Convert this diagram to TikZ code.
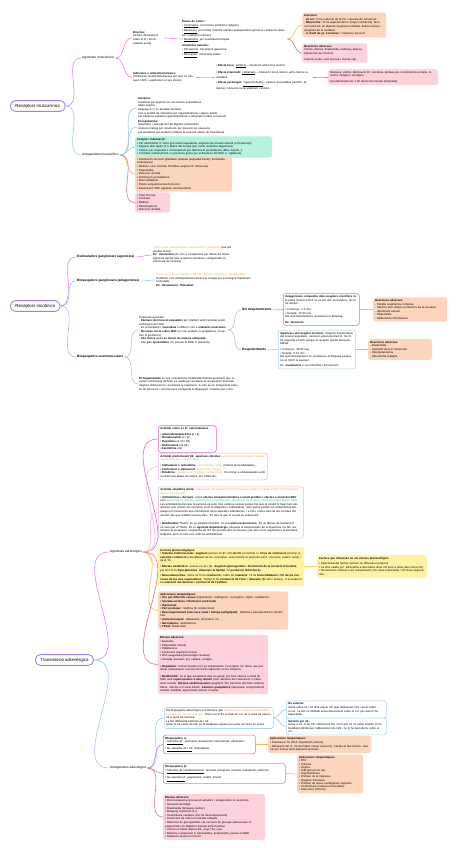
\documentclass[tikz,border=0pt]{standalone}
\usepackage{fontspec}
\setmainfont{Liberation Sans}
\usepackage{tikz}
\usepackage{xcolor}
\definecolor{RootPurple}{RGB}{164, 126, 245}
\definecolor{LinkPink}{RGB}{244, 123, 224}
\definecolor{LinkBlue}{RGB}{144, 205, 247}
\definecolor{LinkLav}{RGB}{192, 174, 245}
\definecolor{LinkOrange}{RGB}{248, 184, 78}
\definecolor{LinkRed}{RGB}{244, 108, 108}
\definecolor{LinkYellow}{RGB}{248, 213, 90}
\definecolor{Peach}{RGB}{253, 213, 189}
\definecolor{Rose}{RGB}{255, 209, 219}
\definecolor{Mint}{RGB}{183, 241, 223}
\definecolor{Lemon}{RGB}{255, 242, 163}
\definecolor{FrameMag}{RGB}{238, 95, 216}
\definecolor{FrameBlue}{RGB}{169, 214, 248}
\definecolor{FramePurple}{RGB}{165, 140, 243}
\definecolor{FramePink}{RGB}{249, 176, 200}
\definecolor{FrameLav}{RGB}{239, 180, 238}
\definecolor{TextOrange}{RGB}{245, 165, 58}
\definecolor{TextTeal}{RGB}{46, 196, 160}

\begin{document}
\begin{tikzpicture}[
    x=1pt, y=-1pt,
    font=\fontsize{2.8}{3.6}\selectfont,
    root/.style={draw=RootPurple, line width=0.9pt, rounded corners=5pt, fill=white, inner xsep=5pt, minimum height=10pt, anchor=west, font=\fontsize{4.4}{5}\selectfont},
    topic/.style={anchor=west, inner sep=1pt, font=\fontsize{3.2}{4}\selectfont},
    topicb/.style={topic, font=\fontsize{3.2}{4}\selectfont\bfseries},
    txt/.style={anchor=west, align=left, inner sep=1pt},
    card/.style={anchor=west, align=left, inner sep=2pt, rounded corners=2.5pt},
    peach/.style={card, fill=Peach},
    rose/.style={card, fill=Rose},
    mint/.style={card, fill=Mint},
    lemon/.style={card, fill=Lemon},
    framed/.style={card, fill=white, draw=#1, line width=0.6pt},
    link/.style={draw=#1, line width=0.6pt}
  ]
  \useasboundingbox (0,0) rectangle (458,848);

  \node[root] (musc) at (10,106) {Receptors muscarínics};
  \node[topic] (agmusc) at (81,58) {Agonistes muscarínics};
  \node[topic] (antmusc) at (81,155) {Antagonistes muscarínics};

  \node[txt, text width=30pt] (direct) at (132,38) {\textbf{Directes:}\\(actuen directament sobre el R i fan la mateixa acció)};
  \node[txt, text width=62pt] (indirect) at (132,77) {\textbf{Indirectes o anticolinesteràsics:}\\(Inhibeixen l'acetilcolinesterasa per això no trenquen l'ACh i augmenten el seu efecte)};
  \node[txt, text width=104pt] (esters) at (181,39) {\textbf{Èsters de colina:}\\
    \textbullet\ \underline{Cevimelina}: xerostomia (síndrome Sjögren)\\
    \textbullet\ \underline{Betanecol}: per tractar retenció urinària postoperatòria (provoca contracció detrusor i relaxació esfínter)\\
    \textbullet\ \underline{Metacolina}: per reactivitat bronquial\\[1.5pt]
    \textbf{Alcaloides naturals:}\\
    \textbullet\ \underline{Pilocarpina}: tractament glaucoma\\
    \textbullet\ \underline{Muscarina}: intoxicació bolets};
  \node[peach, text width=80pt] (funcions) at (302,25) {\textbf{Funcions:}\\
    - \textbf{Al cor:} hi ha reducció de la FC i velocitat de conducció.\\
    - \textbf{Múscul llis:} hi ha augment del to (major contracció), broncoconstricció, en digestiu (augment motilitat), bufeta urinària (augment de la motilitat).\\
    - \textbf{A nivell de gl. exocrines:} s'activa la secreció.};
  \node[rose, text width=61pt] (reacc1) at (302,53) {\textbf{Reaccions adverses:}\\
    Vòmits, diarrea, bradicàrdia, sialorrea, diarrea (hipotensió per broncs).\\[2pt]
    Irritació ocular, visió borrosa i mal de cap.};
  \node[txt, text width=96pt] (indeff) at (215,77) {\textbullet\ \textbf{Efecte breu:} \underline{edrofoni} – interacció amb locus aniònic.\\[2pt]
    \textbullet\ \textbf{Efecte intermedi:} \underline{carbamats} – interacció locus aniònic amb efectes reversibles.\\[2pt]
    \textbullet\ \textbf{Efecte perllongat:} \underline{organofosforats} – efectes irreversibles (antídot: atropina), interacció locus esteràsic i aniònic.};
  \node[rose, text width=106pt] (indadv) at (328,77) {Nàusees, vòmits, disminució FC, anorèxia, pèrdua pes, incontinència urinària, insomni, miàlgies i artràlgies.\\[2pt]
    Cal administrar-los 1-2h abans del menjar (important).};

  \node[txt, text width=130pt] (atrop) at (137,108) {\textbf{Atropina:}\\
    anestèsia per suprimir les secrecions respiratòries\\
    dilata pupil·la\\
    bloqueig A-V, en aturada cardíaca\\
    com a antídot de sobredosi per organofosforats / alguns bolets\\
    per trastorns espàstics gastrointestinals o GI/urinari (relaxa el múscul)};
  \node[txt, text width=130pt] (escop) at (137,127) {\textbf{Escopolamina:}\\
    Antiemètic i mareigs de l'alt digestiu (antiemètic)\\
    cinetosi (mareig per moviment, per prevenir les nàusees),\\
    pre-anestèsia per sedació (inhibeix la secreció abans de l'anestèsia)};
  \node[mint, text width=133pt] (compte) at (135,147) {\textbf{Compte / informació:}\\
    \textbullet\ Per administrar IV lenta (per evitar taquicàrdia, augment de pressió arterial (convulsions))\\
    \textbullet\ Separar dels àpats (1 h abans del menjar (per evitar molèsties digestives))\\
    \textbullet\ Irritació per sequedat o restrenyiment per disminució peristaltisme (fibra, líquids...)\\
    \textbullet\ Controlar restrenyiment en persones grans per estimulació del SNC (+ vigilància).};
  \node[peach, text width=93pt] (antfunc) at (135,174) {\textbullet\ Disminució secreció glàndules (salivals (sequedat bucal), bronquials, sudorípares)\\
    \textbullet\ Midriasi, visió borrosa, fotofòbia, augment P intraocular\\
    \textbullet\ Taquicàrdia\\
    \textbullet\ Retenció urinària\\
    \textbullet\ Disminució peristaltisme\\
    \textbullet\ Broncodilatació\\
    \textbullet\ Efecte antiparkinsonià (tremolor)\\
    \textbullet\ Estimulació SNC (agitació, desorientació)};
  \node[rose, text width=31pt] (antadv) at (135,202.5) {\textbullet\ Visió borrosa\\
    \textbullet\ Confusió\\
    \textbullet\ Midriasi\\
    \textbullet\ Restrenyiment\\
    \textbullet\ Retenció urinària};

  \node[root] (nic) at (10,306) {Receptors nicotínics};
  \node[topicb] (estgang) at (76,257) {Estimuladors ganglionars (agonistes)};
  \node[topicb] (blqgang) at (76,281) {Bloquejadors ganglionars (antagonistes)};
  \node[topicb] (blqnm) at (76,357) {Bloquejadors neuromusculars};

  \node[txt, text width=78pt] (estgangtxt) at (152,255) {{\color{TextOrange}Tenen acció generalitzada a nivell central i ganglionar} que pot resultar tòxica.\\
    \textbf{Ex: Vareniclina} (és com a complement per deixar de fumar. Agonista parcial dels receptors nicotínics i antagonista en presència de nicotina).};
  \node[txt, text width=100pt] (blqgangtxt) at (155,280) {{\color{TextOrange}Tenen acció generalitzada, inhibeixen ganglis simpàtics i parasimpàtics}\\
    S'utilitzen com antihipertensius durant la cirurgia per aconseguir hipotensió controlada.\\
    \textbf{Ex: Hexametoni, Trimetafan}};
  \node[txt, text width=88pt] (propgen) at (138,330) {Propietats generals:\\
    - \textbf{Fàrmacs del múscul esquelètic} per interferir amb l'activitat acetilcolinèrgica de l'ACh.\\
    - En la intubació i l'\textbf{anestèsia} s'utilitzen com a \textbf{relaxants musculars}.\\
    - \textbf{No tenen acció sobre SNC} (no són sedants ni analgèsics), receptors N (perifèrics).\\
    - \textbf{Són tòxics si no es donen de manera adequada.}\\
    - Són \textbf{poc liposolubles} (no passen la BHE ni placenta).};
  \node[txt, text width=100pt] (sugam) at (138,384) {\textbf{El Sugammadex} és una ciclodextrina modificada d'última generació que reverteix el bloqueig profund; és usada per accelerar la recuperació muscular després d'intervenció, accelerant la respiració. A més és un antagonista selectiu de Rocuroni i Vecuroni que encapsula el bloquejant i l'elimina per orina.};
  \node[topicb] (nodesp) at (241,310) {NO despolaritzants};
  \node[topicb] (desp) at (241,350) {Despolaritzants};
  \node[framed=FrameMag, text width=72pt] (nodespbox) at (283,309.5) {\textbf{Antagonisme competitiu dels receptors nicotínics} de la placa motora (l'ACh no es pot unir al receptor). No hi ha despol.\\[2pt]
    \textbullet\ Comença: 1-3 min.\\
    \textbullet\ Durada: 15-30 min.\\
    Els anticolinesteràsics reverteixen el bloqueig.\\[2pt]
    \textbf{Ex: Rocuroni.}};
  \node[framed=FrameBlue, text width=73pt] (despbox) at (278,349.5) {\textbf{Agonistes del receptor nicotínic.} Després d'estimulació del múscul esquelètic. Generen potencial d'acció. No hi ha resposta a l'ACh perquè el receptor queda dessensibilitzat.\\[2pt]
    \textbullet\ Comença: 30-60 seg.\\
    \textbullet\ Durada: 5-10 min.\\
    Els anticolinesteràsics no reverteixen el bloqueig perquè no és l'ACh la causant.\\[2pt]
    Ex: \textbf{suxametoni} o succinilcolina / decametoni.};
  \node[peach, text width=70pt] (nodespadv) at (373,309.5) {\textbf{Reaccions adverses:}\\
    - Paràlisi respiratòria completa\\
    - Abolició dels reflexos protectors de la via aèria\\
    - Hipotensió arterial\\
    - Taquicàrdia\\
    - Alliberament d'histamina};
  \node[peach, text width=60pt] (despadv) at (368,349.5) {\textbf{Reaccions adverses:}\\
    - Bradicàrdia\\
    - Augment de la P intraocular\\
    - Hiperpotassèmia\\
    - Hipertèrmia maligna};

  \node[root] (adr) at (35,660) {Transmissió adrenèrgica};
  \node[topic] (agadr) at (109,552) {Agonistes adrenèrgics};
  \node[topic] (antadr) at (109,768) {Antagonistes adrenèrgics};

  \node[framed=FrameMag, text width=54pt] (catec) at (158,439) {\textbf{Activitat sobre α i β: catecolamines}\\[2pt]
    \textbullet\ \textbf{Adrenalina/epinefrina} (α i β)\\
    \textbullet\ \textbf{Noradrenalina} (α i β)\\
    \textbullet\ \textbf{Dopamina} (α i β1 D1)\\
    \textbullet\ \textbf{Dobutamina} (α1 β1)\\
    \textbullet\ \textbf{Fenilefrina} (α1)};
  \node[framed=FrameLav, text width=105pt] (beta2) at (158,466.5) {\textbf{Activitat predominant β2: agonistes directes} {\color{TextOrange}(actuen sobre el receptor i simulen l'acció de la NA o l'adrenalina)}\\[2pt]
    \textbullet\ \textbf{Salbutamol o terbutalina:} {\color{TextOrange}acció ràpida i curta}. Potents broncodilatadors.\\
    \textbullet\ \textbf{Formoterol o salmeterol:} {\color{TextOrange}acció lenta i llarga}.\\
    \textbullet\ \textbf{Ritodrina:} {\color{TextOrange}relaxant uterí (inhibeix contraccions)}. Per donar a embarassades amb contraccions abans de temps, per inhibir-les.};
  \node[framed=FramePink, text width=141pt] (mixta) at (158,512.5) {\textbf{Activitat simpàtica mixta:} {\color{TextOrange}augmenten catecolamines en la fenedura sinàptica i també actuen com agonistes amb el transportador.}\\
    \textbullet\ \textbf{Amfetamines i derivats:} tenen \textbf{efectes simpaticomimètics a nivell perifèric i efectes a nivell del SNC} com {\color{TextTeal}estat d'alerta, eufòria, augment de la concentració i disminució de la gana, anorèxia, dependència, abús.}\\
    Les amfetamines fan que la persona es senti més eufòrica i activa perquè fan que al cervell hi hagi més substàncies que activen les neurones (com la dopamina i l'adrenalina). Això passa perquè les amfetamines bloquegen el mecanisme que normalment retira aquestes substàncies, i a més, entren dins de les cèl·lules del cervell i fan que s'alliberi encara més. Tot això fa que el cervell se sobreexciti.\\[5pt]
    \textbullet\ \textbf{Metilfenidat} (TDAH): és un simpaticomimètic, és una \textbf{amina heterocíclica}. És un fàrmac de tractament en nens per al TDAH. És un \textbf{agonista dopaminèrgic}, bloqueja el transportador de la dopamina i la NA, disminueix la recaptació i augmenta els NT. No penetra dins la neurona, per això el NT augmenta a la fenedura sinàptica, però no tant com amb les amfetamines.};
  \node[lemon, text width=142pt] (accions) at (158,566.5) {\textbf{Accions farmacològiques}\\
    \textbullet\ \textbf{Sistema cardiovascular: augment} (actuen en β1 i β2) \textbf{de FC} (cronotrop +), \textbf{força de contracció} (inotrop +), \textbf{velocitat conducció} (vasodilatació de les coronàries, vasoconstricció arterioles perif., mucoses, cutani i renal) i de la TA.\\[2pt]
    \textbullet\ \textbf{Efectes metabòlics:} actuen en α1 i β2. \textbf{Augment glucogenòlisi} i \textbf{disminució de la secreció d'insulina}, per tant hi ha \textbf{hiperglucèmia}. \textbf{Afavoreix la lipòlisi} i la \textbf{producció d'AG lliures}.\\[2pt]
    \textbullet\ \textbf{Musculatura llisa:} sobre α1 hi ha \textbf{contracció} i sobre β2 \textbf{relaxació}. Hi ha \textbf{broncodilatació} i \textbf{VC de les mucoses de les vies respiratòries}. També hi ha \textbf{contracció de l'úter} i \textbf{relaxació} (β2 úter i bufeta). A la bufeta hi ha \textbf{relaxació del detrusor} i \textbf{contracció de l'esfínter}.};
  \node[lemon, text width=106pt] (factors) at (317,566.5) {\textbf{Factors que influeixen en els efectes farmacològics}\\[2pt]
    \textbullet\ Selectivitat del fàrmac (actuen en diferents receptors)\\
    \textbullet\ La dosi usada (ex: adrenalina a dosi baixa dona VD però a dosis altes dona VC)\\
    \textbullet\ Mecanismes reflexos o de compensació (VC dona bradicàrdia / VD dona taquicàrdia).};
  \node[peach, text width=126pt] (aplic) at (158,610.5) {\textbf{Aplicacions terapèutiques:}\\
    \textbullet\ \textbf{Xoc per diferents causes} (hipovolèmic, cardiogènic, neurogènic, sèptic i anafilàctic).\\
    \textbullet\ \textbf{Aturada cardíaca / fibril·lació ventricular}\\
    \textbullet\ \textbf{Hipotensió}\\
    \textbullet\ \textbf{Part prematur:} ritodrina (β contraccions).\\
    \textbullet\ \textbf{Descongestionant (mucoses nasal i faringe (antigripals):} efedrina o pseudoefedrina, fenilefrina.\\
    \textbullet\ \textbf{Asma bronquial:} salbutamol, formoterol, etc.\\
    \textbullet\ \textbf{Narcolèpsia:} amfetamines\\
    \textbullet\ \textbf{TDAH:} metilfenidat};
  \node[rose, text width=106pt] (efadv) at (158,664.5) {\textbf{Efectes adversos:}\\
    \textbullet\ Generals\\
    \textbullet\ Taquicàrdia sinusal\\
    \textbullet\ Palpitacions\\
    \textbullet\ Fenòmens isquèmics locals\\
    \textbullet\ HTA exagerada (hemorràgia cerebral)\\
    \textbullet\ Ansietat, tremolor, por, cefalea, vertigen.\\[3pt]
    \textbullet\ \textbf{Dopamina:} necrosi tissular si hi ha extravasació. Provoquen VC distal, que pot donar extravasació i necrosi de teixits adjacents en les infusions.\\[3pt]
    \textbullet\ \textbf{Metilfenidat:} és el que actualment més es pauta; pot tenir efectes a nivell de SNC amb \textbf{repercussions a llarg termini} (com alteració del creixement o maduració sexual). \textbf{Efectes cardiovasculars} (augment TA i trastorns del ritme cardíac). Altres: efectes en l'estat d'ànim, \textbf{trastorns psiquiàtrics} (depressió, comportament suïcida, hostilitat, agressivitat, psicosi i mania).};

  \node[framed=FrameBlue, text width=105pt] (blqinfo) at (164,718) {Els bloquejants adrenèrgics són fàrmacs que {\color{TextOrange}inhibeixen els receptors adrenèrgics (impedeixen l'acció de la NA)}. Tenen acció β1 a nivell de cor, α1 a nivell de vasos i α2 a nivell de neurona.\\
    La NA alliberada estimula α1 i α2.\\
    Quan hi ha excés de NA, es fa feedback negatiu per evitar secreció en excés.};
  \node[framed=FrameBlue, text width=96pt] (nosel) at (286,709.5) {\textbf{No selectiu:}\\
    Actua sobre α1 i α2 amb efecte VD (que disminueix PA) i acció sobre el cor. La NA no inhibida actua directament sobre el cor, per això hi ha taquicàrdia.};
  \node[framed=FrameBlue, text width=96pt] (selalfa) at (286,726.5) {\textbf{Selectiu per α1:}\\
    Actua a α1, hi ha VD i disminució PA. Com que α2 no estan inhibits, hi ha feedback (inhibeixen l'alliberament de NA) i no hi ha tant efecte sobre el cor.};
  \node[framed=FrameMag, text width=88pt] (blqalfa) at (163,744.5) {\textbf{Bloquejadors α:}\\
    \textbullet\ \underline{Selectius α1}: prazosina, doxazosina, tamsulosina, alfuzosina.\\[2pt]
    \textbullet\ \underline{No selectius α1 i α2}: fentolamina.};
  \node[peach, text width=99pt] (aplalfa) at (268,744.5) {\textbf{Aplicacions terapèutiques:}\\
    \textbullet\ Disminueix TA (HTA: hipertensió arterial).\\
    \textbullet\ Relaxació del m. llis del trígon urinari (retenció). Facilita el flux d'orina. Indicat per homes amb adenoma prostàtic.};
  \node[framed=FramePurple, text width=118pt] (blqbeta) at (163,773.5) {\textbf{Bloquejadors β:}\\
    \textbullet\ \underline{Selectius β1 (cardioselectius)}: atenolol, bisoprolol, esmolol, metoprolol, nebivolol.\\[2pt]
    \textbullet\ \underline{No selectius β}: propranolol, sotalol, timolol.};
  \node[peach, text width=62pt, font=\fontsize{2.8}{3.2}\selectfont] (aplbeta) at (297,774) {\textbf{Aplicacions terapèutiques:}\\
    \textbullet\ HTA\\
    \textbullet\ Arítmies\\
    \textbullet\ Angina\\
    \textbullet\ IAM (prevenció 2a)\\
    \textbullet\ Hipertiroïdisme\\
    \textbullet\ Profilaxi de la migranya\\
    \textbullet\ Quadres d'ansietat\\
    \textbullet\ Profilaxi de varius esofàgiques sagnants\\
    \textbullet\ Insuficiència Cardíaca (Carvedilol)\\
    \textbullet\ Glaucoma (Timolol)};
  \node[rose, text width=98pt] (efbeta) at (163,817) {\textbf{Efectes adversos:}\\
    \textbullet\ Broncoespasme (precaució asmàtics / antagonistes no selectius)\\
    \textbullet\ Sensació de fatiga\\
    \textbullet\ Bradicàrdia (bloqueig cardíac)\\
    \textbullet\ Bloqueig conducció A-V\\
    \textbullet\ Insuficiència cardíaca (risc de descompensació)\\
    \textbullet\ Fenòmens de rebot en retirada sobtada\\
    \textbullet\ Reducció de glucogenòlisi i de secreció de glucagó (afavoreixen hipoglucèmies en diabètics tractats amb insulina)\\
    \textbullet\ Canvis en lípids (baixa HDL, puja TG) i pes\\
    \textbullet\ Malsons o depressió (+ liposolubles, propranolol), passen la BHE\\
    \textbullet\ Disfunció sexual en homes};

  \draw[link=LinkPink] (musc.east) to[out=0,in=180] (agmusc.west);
  \draw[link=LinkBlue] (musc.east) to[out=0,in=180] (antmusc.west);
  \draw[link=LinkPink] (agmusc.east) to[out=0,in=180] (direct.west);
  \draw[link=LinkPink] (agmusc.east) to[out=0,in=180] (indirect.west);
  \draw[link=LinkPink] (direct.east) to[out=0,in=180] (esters.west);
  \draw[link=LinkOrange] (esters.east) to[out=0,in=180] (funcions.west);
  \draw[link=LinkRed] (esters.east) to[out=0,in=180] (reacc1.west);
  \draw[link=LinkPink] (indirect.east) to[out=0,in=180] (indeff.west);
  \draw[link=LinkRed] (indeff.east) to[out=0,in=180] (indadv.west);
  \draw[link=LinkBlue] (antmusc.east) to[out=0,in=180] (atrop.west);
  \draw[link=LinkBlue] (antmusc.east) to[out=0,in=180] (escop.west);
  \draw[link=LinkBlue] (antmusc.east) to[out=0,in=180] (compte.west);
  \draw[link=LinkOrange] (antmusc.east) to[out=0,in=180] (antfunc.west);
  \draw[link=LinkRed] (antmusc.east) to[out=0,in=180] (antadv.west);

  \draw[link=LinkPink] (nic.east) to[out=0,in=180] (estgang.west);
  \draw[link=LinkBlue] (nic.east) to[out=0,in=180] (blqgang.west);
  \draw[link=LinkLav] (nic.east) to[out=0,in=180] (blqnm.west);
  \draw[link=LinkPink] (estgang.east) to[out=0,in=180] (estgangtxt.west);
  \draw[link=LinkBlue] (blqgang.east) to[out=0,in=180] (blqgangtxt.west);
  \draw[link=LinkLav] (blqnm.east) to[out=0,in=180] (propgen.west);
  \draw[link=LinkLav] (blqnm.east) to[out=0,in=180] (sugam.west);
  \draw[link=LinkLav] (propgen.east) to[out=0,in=180] (nodesp.west);
  \draw[link=LinkLav] (propgen.east) to[out=0,in=180] (desp.west);
  \draw[link=LinkPink] (nodesp.east) to[out=0,in=180] (nodespbox.west);
  \draw[link=LinkBlue] (desp.east) to[out=0,in=180] (despbox.west);
  \draw[link=LinkOrange] (nodespbox.east) to[out=0,in=180] (nodespadv.west);
  \draw[link=LinkOrange] (despbox.east) to[out=0,in=180] (despadv.west);

  \draw[link=LinkPink] (adr.east) to[out=0,in=180] (agadr.west);
  \draw[link=LinkBlue] (adr.east) to[out=0,in=180] (antadr.west);
  \draw[link=FrameMag] (agadr.east) to[out=0,in=180] (catec.west);
  \draw[link=FrameLav] (agadr.east) to[out=0,in=180] (beta2.west);
  \draw[link=FramePink] (agadr.east) to[out=0,in=180] (mixta.west);
  \draw[link=LinkYellow] (agadr.east) to[out=0,in=180] (accions.west);
  \draw[link=LinkOrange] (agadr.east) to[out=0,in=180] (aplic.west);
  \draw[link=LinkRed] (agadr.east) to[out=0,in=180] (efadv.west);
  \draw[link=LinkYellow] (accions.east) to[out=0,in=180] (factors.west);
  \draw[link=LinkBlue] (antadr.east) to[out=0,in=180] (blqinfo.west);
  \draw[link=FrameMag] (antadr.east) to[out=0,in=180] (blqalfa.west);
  \draw[link=FramePurple] (antadr.east) to[out=0,in=180] (blqbeta.west);
  \draw[link=LinkRed] (antadr.east) to[out=0,in=180] (efbeta.west);
  \draw[link=LinkBlue] (blqinfo.east) to[out=0,in=180] (nosel.west);
  \draw[link=LinkBlue] (blqinfo.east) to[out=0,in=180] (selalfa.west);
  \draw[link=LinkOrange] (blqalfa.east) to[out=0,in=180] (aplalfa.west);
  \draw[link=LinkOrange] (blqbeta.east) to[out=0,in=180] (aplbeta.west);
\end{tikzpicture}
\end{document}
